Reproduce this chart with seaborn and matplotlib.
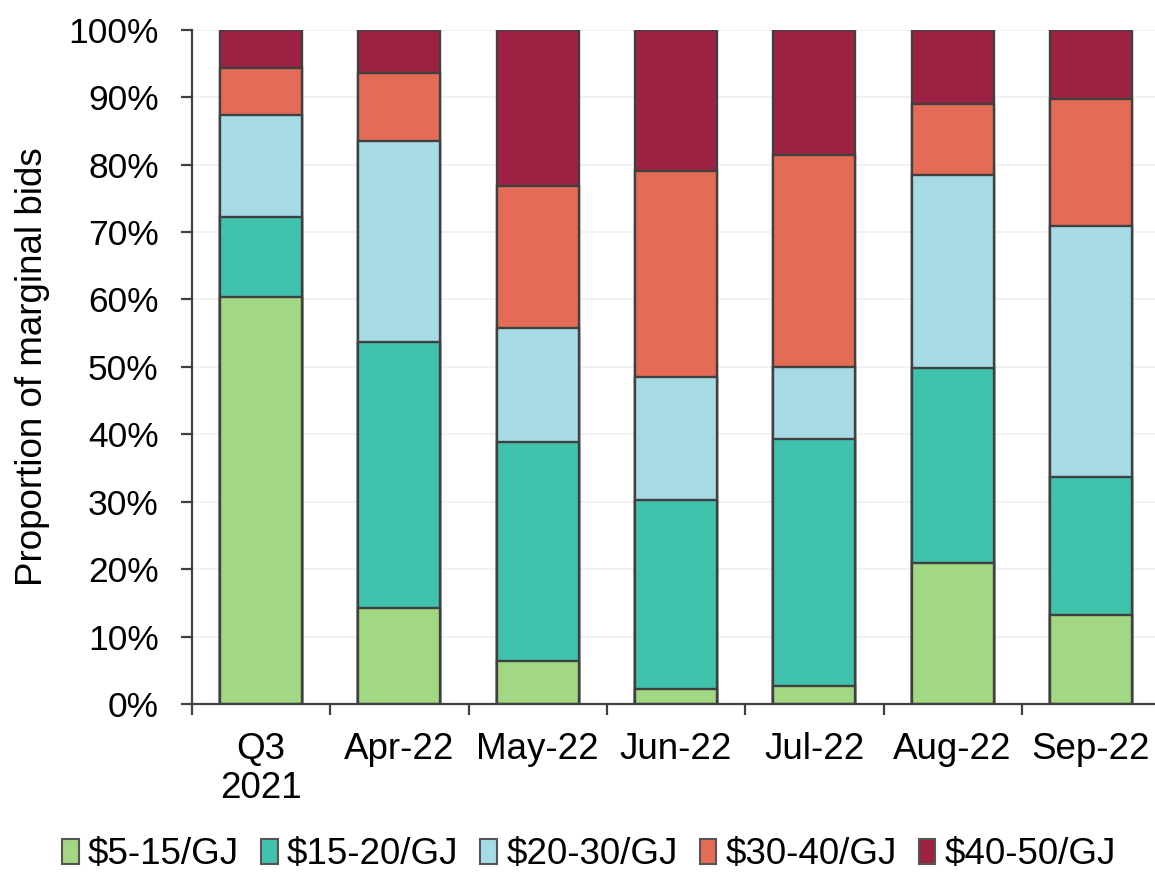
import numpy as np
import pandas as pd
import matplotlib
matplotlib.use("Agg")
import matplotlib.pyplot as plt
from matplotlib.patches import Patch
from matplotlib.ticker import FixedLocator, PercentFormatter
import seaborn as sns

# Share of marginal bids by price band (%), per period
periods = ["Q3\n2021", "Apr-22", "May-22", "Jun-22", "Jul-22", "Aug-22", "Sep-22"]
band_labels = ["$5-15/GJ", "$15-20/GJ", "$20-30/GJ", "$30-40/GJ", "$40-50/GJ"]
band_5_15 = [60.4, 14.2, 6.4, 2.2, 2.6, 20.9, 13.2]
band_15_20 = [11.8, 39.5, 32.4, 28.0, 36.7, 28.9, 20.5]
band_20_30 = [15.1, 29.8, 17.0, 18.3, 10.7, 28.7, 37.2]
band_30_40 = [7.1, 10.1, 21.0, 30.5, 31.4, 10.5, 18.9]
band_40_50 = [5.6, 6.4, 23.2, 21.0, 18.6, 11.0, 10.2]

colors = ["#A2D884", "#41C2AC", "#A6DBE6", "#E46B55", "#9C2142"]
edge = "#404040"

sns.set_style("white")
plt.rcParams["font.family"] = ["Liberation Sans", "DejaVu Sans"]
plt.rcParams["font.size"] = 25
plt.rcParams["text.color"] = "black"
plt.rcParams["axes.labelcolor"] = "black"
plt.rcParams["xtick.color"] = "black"
plt.rcParams["ytick.color"] = "black"

bands = [band_5_15, band_15_20, band_20_30, band_30_40, band_40_50]
cumulative = np.cumsum(np.array(bands), axis=0)

fig = plt.figure(figsize=(11.55, 8.75), dpi=100)
# The category axis runs off the right edge of the figure
ax = fig.add_axes([0.1662, 0.1954, 0.8338, 0.7706])

for y in range(10, 101, 10):
    ax.axhline(y, color="#F0F0F0", lw=1.2, zorder=0)

# Stack by drawing cumulative totals from the top band down
for i in reversed(range(len(bands))):
    df = pd.DataFrame({"period": periods, "value": cumulative[i]})
    sns.barplot(data=df, x="period", y="value", order=periods, color=colors[i],
                saturation=1, width=0.593, edgecolor=edge, linewidth=1.7,
                ax=ax, zorder=2)

ax.set_xlim(-0.5, 6.463)
ax.set_ylim(0, 100)
ax.yaxis.set_major_locator(FixedLocator(np.arange(0, 101, 10)))
ax.yaxis.set_major_formatter(PercentFormatter(decimals=0))
ax.set_xlabel("")
ax.set_ylabel("Proportion of marginal bids", fontsize=26.5, labelpad=13)

ax.xaxis.set_minor_locator(FixedLocator(np.arange(-0.5, len(periods) - 1, 1.0)))
ax.tick_params(axis="x", which="major", length=0, pad=20, labelsize=26.5)
ax.tick_params(axis="x", which="minor", length=8, width=1.6, color=edge, direction="out")
ax.tick_params(axis="y", which="major", length=8, width=1.6, color=edge,
               direction="out", pad=16, labelsize=25.5, left=True)
ax.xaxis.set_tick_params(which="minor", bottom=True)
for lab in ax.get_xticklabels():
    lab.set_linespacing(1.15)

for side in ["top", "right"]:
    ax.spines[side].set_visible(False)
for side in ["left", "bottom"]:
    ax.spines[side].set_color(edge)
    ax.spines[side].set_linewidth(1.6)

handles = [Patch(facecolor=c, edgecolor="#555555", linewidth=1.5) for c in colors]
fig.legend(handles, band_labels, loc="center", bbox_to_anchor=(0.51, 1 - 855 / 875),
           ncol=5, frameon=False, fontsize=26.5, handlelength=0.45, handleheight=0.65,
           handletextpad=0.25, columnspacing=0.6, borderaxespad=0)

fig.savefig("out.png", dpi=100)
